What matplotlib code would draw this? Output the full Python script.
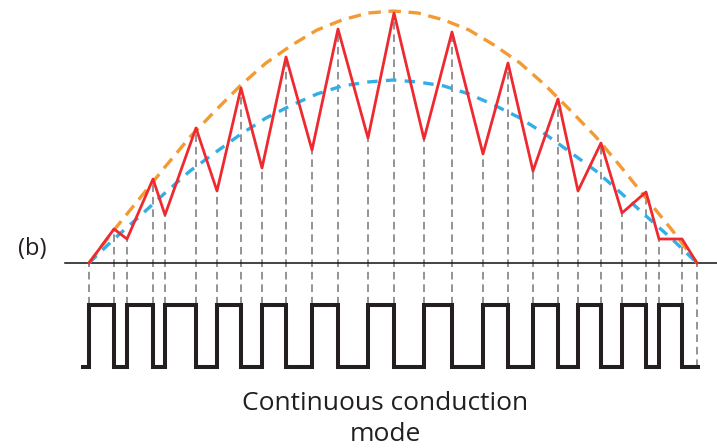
import numpy as np
import matplotlib
matplotlib.use("Agg")
import matplotlib.pyplot as plt

plt.rcParams["lines.scale_dashes"] = False
plt.rcParams["font.family"] = ["Open Sans", "DejaVu Sans"]

# corriente del inductor (vertices del zigzag), t y i en unidades arbitrarias
t_vert = [0, 25, 38, 64, 76, 107, 128, 152, 173, 197, 223, 249, 279, 305,
          335, 363, 394, 419, 444, 469, 489, 512, 533, 557, 570, 593, 608]
i_vert = [0, 34, 24, 84, 48, 135, 72, 175, 95, 206, 113, 234, 125, 250,
          124, 231, 109, 200, 92, 164, 72, 120, 50, 71, 24, 24, 0]

# estado de la llave entre vertices (1 = cerrada)
gate = [1, 0, 1, 0, 1, 0, 1, 0, 1, 0, 1, 0, 1, 0,
        1, 0, 1, 0, 1, 0, 1, 0, 1, 0, 1, 0]

# envolventes: pico (naranja) y promedio (azul)
t_env = [0, 25, 51, 76, 101, 127, 152, 177, 203, 228, 253, 279, 304,
         329, 355, 380, 405, 431, 456, 481, 507, 532, 557, 583, 608]
i_peak = [0, 33, 65, 96, 126, 153, 178, 200, 218, 233, 243, 250, 252,
          250, 243, 233, 218, 200, 178, 153, 126, 96, 65, 33, 0]
i_avg = [0, 24, 47, 70, 92, 111, 129, 145, 158, 169, 177, 181, 183,
         181, 177, 169, 158, 145, 129, 111, 92, 70, 47, 24, 0]

G_HIGH, G_LOW = -42, -104

fig = plt.figure(figsize=(7.17, 4.48), dpi=100)
ax = fig.add_axes([0, 0, 1, 1])
ax.set_xlim(-89, 628)
ax.set_ylim(-185, 263)
ax.axis("off")

# lineas guia verticales
ax.vlines(t_vert, G_LOW, i_vert, colors="#777777", lw=1.1,
          linestyles=(0, (5.5, 3.5)), zorder=1)

# eje horizontal
ax.plot([-24, 628], [0, 0], color="#111111", lw=1.1, zorder=2)

# envolventes
ax.plot(t_env, i_peak, color="#f39a33", lw=2.4, ls=(0, (9, 5.5)), zorder=3)
ax.plot(t_env, i_avg, color="#33aee6", lw=2.4, ls=(0, (7.5, 6)), zorder=3)

# corriente
ax.plot(t_vert, i_vert, color="#ee2a30", lw=2.0, zorder=4)

# senal de compuerta
g_t = [-6] + t_vert[:-1] + [t_vert[-1], t_vert[-1] + 1]
g_y = [G_LOW] + [G_HIGH if g else G_LOW for g in gate] + [G_LOW, G_LOW]
ax.plot(g_t, g_y, drawstyle="steps-post", color="#231f20", lw=2.9,
        solid_joinstyle="miter", zorder=2)

ax.text(-57, 8, "(b)", fontsize=17, ha="center", va="baseline", color="#231f20")
ax.text(296, -147, "Continuous conduction", fontsize=19, ha="center",
        va="baseline", color="#231f20")
ax.text(296, -178, "mode", fontsize=19, ha="center", va="baseline",
        color="#231f20")

fig.savefig("out.png", dpi=100)
